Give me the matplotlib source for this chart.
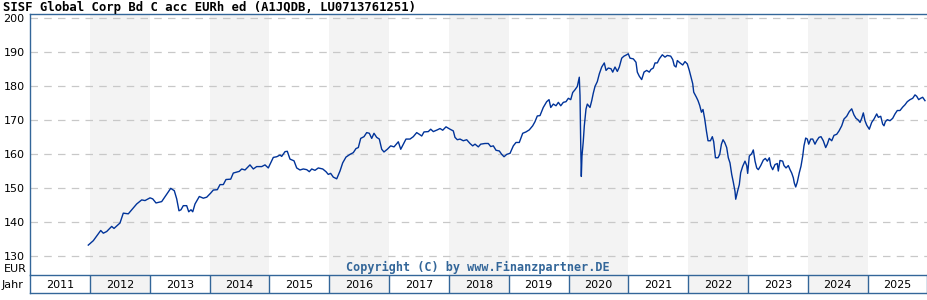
import matplotlib
matplotlib.use('Agg')
import matplotlib.pyplot as plt

title = 'SISF Global Corp Bd C acc EURh ed (A1JQDB, LU0713761251)'
copyright_text = 'Copyright (C) by www.Finanzpartner.DE'
year_labels = list(range(2011, 2026))
y_ticks = [130, 140, 150, 160, 170, 180, 190, 200]

# dates as decimal years, fund price in EUR
dates = [
    2011.971, 2012.055, 2012.138, 2012.179, 2012.222, 2012.279, 2012.362, 2012.401,
    2012.501, 2012.556, 2012.640, 2012.697, 2012.780, 2012.864, 2012.919, 2013.003,
    2013.048, 2013.103, 2013.198, 2013.282, 2013.349, 2013.409, 2013.449, 2013.487,
    2013.521, 2013.559, 2013.616, 2013.650, 2013.688, 2013.717, 2013.755, 2013.827,
    2013.894, 2013.951, 2014.017, 2014.061, 2014.128, 2014.173, 2014.228, 2014.273,
    2014.352, 2014.395, 2014.496, 2014.536, 2014.591, 2014.674, 2014.730, 2014.786,
    2014.870, 2014.925, 2014.980, 2015.064, 2015.121, 2015.176, 2015.204, 2015.260,
    2015.298, 2015.343, 2015.410, 2015.455, 2015.510, 2015.565, 2015.622, 2015.666,
    2015.706, 2015.761, 2015.816, 2015.890, 2015.945, 2015.983, 2016.023, 2016.067,
    2016.124, 2016.179, 2016.224, 2016.279, 2016.346, 2016.401, 2016.446, 2016.485,
    2016.525, 2016.580, 2016.625, 2016.669, 2016.709, 2016.747, 2016.792, 2016.836,
    2016.876, 2016.914, 2016.970, 2017.026, 2017.082, 2017.154, 2017.194, 2017.237,
    2017.282, 2017.349, 2017.404, 2017.461, 2017.505, 2017.545, 2017.583, 2017.655,
    2017.695, 2017.739, 2017.805, 2017.851, 2017.896, 2017.951, 2018.018, 2018.073,
    2018.101, 2018.140, 2018.185, 2018.240, 2018.297, 2018.352, 2018.397, 2018.436,
    2018.491, 2018.531, 2018.603, 2018.658, 2018.698, 2018.742, 2018.787, 2018.842,
    2018.882, 2018.921, 2018.966, 2019.021, 2019.076, 2019.121, 2019.176, 2019.233,
    2019.288, 2019.343, 2019.400, 2019.438, 2019.477, 2019.522, 2019.577, 2019.634,
    2019.673, 2019.702, 2019.745, 2019.790, 2019.829, 2019.869, 2019.912, 2019.957,
    2019.996, 2020.036, 2020.069, 2020.107, 2020.146, 2020.179, 2020.191, 2020.203,
    2020.213, 2020.224, 2020.246, 2020.263, 2020.291, 2020.313, 2020.358, 2020.387,
    2020.413, 2020.442, 2020.480, 2020.514, 2020.554, 2020.597, 2020.626, 2020.664,
    2020.709, 2020.738, 2020.776, 2020.815, 2020.848, 2020.888, 2020.926, 2020.971,
    2020.998, 2021.027, 2021.082, 2021.127, 2021.149, 2021.182, 2021.222, 2021.261,
    2021.306, 2021.349, 2021.378, 2021.416, 2021.445, 2021.483, 2021.517, 2021.567,
    2021.612, 2021.650, 2021.707, 2021.741, 2021.767, 2021.796, 2021.818, 2021.863,
    2021.908, 2021.946, 2021.985, 2022.018, 2022.075, 2022.092, 2022.137, 2022.164,
    2022.192, 2022.221, 2022.247, 2022.276, 2022.304, 2022.331, 2022.371, 2022.403,
    2022.426, 2022.455, 2022.498, 2022.527, 2022.555, 2022.582, 2022.610, 2022.643,
    2022.670, 2022.698, 2022.727, 2022.754, 2022.782, 2022.794, 2022.827, 2022.854,
    2022.877, 2022.911, 2022.949, 2022.978, 2022.994, 2023.021, 2023.061, 2023.088,
    2023.117, 2023.145, 2023.172, 2023.212, 2023.255, 2023.289, 2023.322, 2023.356,
    2023.379, 2023.412, 2023.451, 2023.489, 2023.506, 2023.534, 2023.579, 2023.601,
    2023.635, 2023.673, 2023.702, 2023.730, 2023.757, 2023.773, 2023.797, 2023.823,
    2023.857, 2023.885, 2023.914, 2023.935, 2023.964, 2023.991, 2024.014, 2024.048,
    2024.081, 2024.119, 2024.148, 2024.186, 2024.220, 2024.258, 2024.298, 2024.325,
    2024.358, 2024.399, 2024.437, 2024.482, 2024.521, 2024.566, 2024.604, 2024.649,
    2024.693, 2024.733, 2024.771, 2024.805, 2024.843, 2024.872, 2024.900, 2024.927,
    2024.955, 2024.984, 2025.027, 2025.067, 2025.106, 2025.151, 2025.178, 2025.218,
    2025.251, 2025.273, 2025.295, 2025.328, 2025.373, 2025.418, 2025.457, 2025.495,
    2025.540, 2025.585, 2025.624, 2025.662, 2025.708, 2025.753, 2025.791, 2025.819,
    2025.853, 2025.886, 2025.919, 2025.958,
]
prices = [
    133.2, 134.5, 136.5, 137.5, 136.7, 137.2, 138.7, 138.1,
    139.7, 142.6, 142.4, 143.6, 145.3, 146.5, 146.3, 147.1,
    146.8, 145.6, 146.0, 148.2, 149.9, 149.2, 146.8, 143.3,
    143.6, 144.8, 144.8, 143.0, 143.6, 143.0, 145.3, 147.5,
    147.0, 147.3, 148.5, 149.4, 149.5, 151.0, 151.0, 152.5,
    152.6, 154.4, 154.9, 155.6, 155.3, 156.8, 155.6, 156.3,
    156.3, 156.8, 155.9, 159.0, 159.2, 159.7, 159.3, 160.7,
    160.8, 158.5, 158.0, 155.9, 155.3, 155.6, 155.4, 154.8,
    155.6, 155.2, 155.9, 155.6, 154.8, 154.0, 154.3, 153.2,
    152.7, 155.0, 157.4, 159.1, 159.9, 160.4, 161.6, 161.9,
    164.6, 165.1, 166.3, 166.1, 164.6, 166.1, 164.9, 164.4,
    161.4, 160.6, 161.4, 162.4, 162.1, 163.6, 161.4, 162.9,
    164.4, 164.4, 165.1, 166.3, 165.8, 165.3, 166.5, 166.6,
    167.3, 166.6, 167.1, 167.5, 167.0, 168.0, 167.3, 166.8,
    164.9, 164.2, 164.4, 163.9, 164.2, 163.1, 162.4, 162.9,
    162.1, 162.9, 163.1, 163.1, 162.2, 162.4, 161.1, 160.9,
    159.9, 159.2, 159.9, 160.2, 162.4, 163.4, 163.4, 166.1,
    166.5, 167.1, 168.3, 169.5, 171.2, 171.3, 173.7, 175.4,
    176.0, 173.7, 174.7, 174.2, 175.2, 174.2, 175.2, 175.4,
    176.4, 176.0, 178.1, 178.9, 179.9, 182.6, 177.2, 162.8,
    153.4, 159.4, 163.8, 168.3, 173.2, 174.7, 173.7, 175.7,
    177.9, 179.9, 181.3, 183.6, 185.6, 186.8, 184.6, 185.3,
    185.1, 184.1, 185.6, 184.3, 185.6, 188.2, 188.8, 189.2,
    189.5, 188.2, 188.0, 187.0, 184.1, 182.9, 181.9, 184.1,
    184.6, 184.1, 184.9, 185.3, 186.8, 186.8, 188.0, 189.2,
    188.5, 189.0, 188.8, 187.8, 186.0, 185.6, 187.5, 186.8,
    186.2, 187.2, 186.5, 184.6, 180.7, 178.2, 176.7, 175.7,
    174.3, 172.3, 173.1, 170.3, 166.8, 163.9, 163.9, 165.1,
    163.6, 158.9, 158.9, 159.9, 162.9, 164.2, 163.4, 161.9,
    158.9, 157.4, 154.0, 151.7, 149.0, 146.7, 149.2, 151.0,
    154.5, 156.4, 157.9, 156.6, 154.3, 159.4, 160.1, 161.2,
    157.9, 155.9, 155.4, 156.6, 158.2, 158.7, 157.9, 158.9,
    156.6, 155.4, 156.9, 157.2, 155.0, 158.1, 157.9, 156.6,
    155.9, 156.6, 155.4, 154.4, 153.0, 151.5, 150.3, 151.7,
    154.5, 156.4, 159.4, 162.4, 164.7, 164.4, 162.9, 164.4,
    164.4, 162.9, 163.9, 164.9, 165.1, 163.9, 161.9, 162.9,
    164.6, 163.9, 165.5, 165.8, 166.8, 168.3, 170.3, 171.1,
    172.5, 173.3, 171.5, 170.5, 170.0, 169.3, 170.5, 172.1,
    169.8, 168.5, 167.3, 169.3, 170.3, 171.8, 170.8, 171.1,
    168.8, 168.3, 169.5, 170.1, 169.8, 170.5, 171.8, 172.8,
    172.8, 173.8, 174.5, 175.4, 176.0, 176.4, 177.4, 177.0,
    176.0, 176.4, 176.7, 175.7,
]

frame_color = '#336699'
shade_color = '#f3f3f3'
line_color = '#003399'
W, H = 928, 300

fig = plt.figure(figsize=(W / 100, H / 100), dpi=100)
left = 30.2 / W
width = (927.5 - 30.2) / W

ax = fig.add_axes([left, (H - 275) / H, width, (275 - 14) / H])
ax.set_xlim(2011, 2026)
ax.set_ylim(124.4, 201.2)
for y in year_labels:
    if y % 2 == 0:
        ax.axvspan(y, y + 1, color=shade_color, lw=0, zorder=0)
for t in y_ticks:
    ax.axhline(t, color='#c8c8c8', lw=0.9, dashes=(6, 5), zorder=1)
ax.plot(dates, prices, color=line_color, lw=1.0, zorder=3)
ax.set_yticks(y_ticks)
ax.set_yticklabels([str(t) for t in y_ticks], fontsize=8)
ax.tick_params(axis='y', length=0, pad=4)
ax.set_xticks([])
for s in ['right', 'bottom']:
    ax.spines[s].set_visible(False)
for s in ['left', 'top']:
    ax.spines[s].set_color(frame_color)
    ax.spines[s].set_linewidth(1.0)
ax.text(2018.49, 126.5, copyright_text, fontsize=8.5, family='DejaVu Sans Mono',
        fontweight='bold', color=frame_color, ha='center', va='center', zorder=4)

# year row
yax = fig.add_axes([left, (H - 293) / H, width, 18 / H])
yax.set_xlim(2011, 2026)
yax.set_ylim(0, 1)
for y in year_labels:
    if y % 2 == 0:
        yax.axvspan(y, y + 1, color=shade_color, lw=0)
    if y > 2011:
        yax.axvline(y, color=frame_color, lw=1.0)
    yax.text(y + 0.5, 0.45, str(y), ha='center', va='center', fontsize=8)
yax.set_xticks([])
yax.set_yticks([])
for s in yax.spines.values():
    s.set_color(frame_color)
    s.set_linewidth(1.0)

fig.text(3 / W, 1 - 8 / H, title, fontsize=8.8, family='DejaVu Sans Mono',
         fontweight='bold', ha='left', va='center')
fig.text(27 / W, 1 - 269 / H, 'EUR', fontsize=8, ha='right', va='center')
fig.text(2 / W, 1 - 285 / H, 'Jahr', fontsize=8, ha='left', va='center')

fig.savefig('out.png', dpi=100)
